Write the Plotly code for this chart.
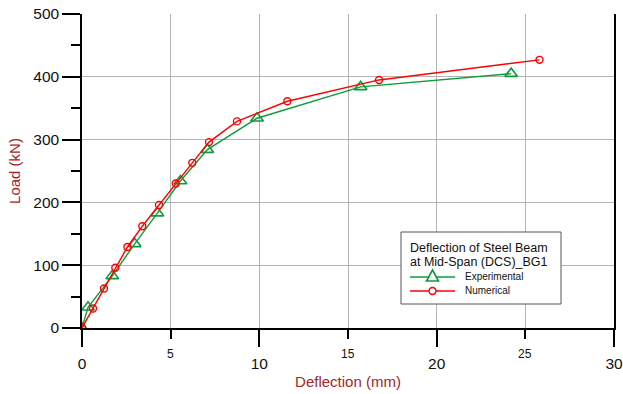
import plotly.graph_objects as go

# Load-deflection data at mid-span, beam BG1
exp_deflection = [0, 0.34, 1.71, 2.97, 4.25, 5.55, 7.07, 9.87, 15.71, 24.2]
exp_load = [0, 33, 83, 134, 183, 234, 284, 334, 384, 405]

num_deflection = [0, 0.62, 1.24, 1.88, 2.56, 3.40, 4.34, 5.29, 6.22, 7.16,
                  8.74, 11.58, 16.75, 25.8]
num_load = [0, 31, 63, 96, 129, 162, 196, 230, 263, 296, 329, 361, 395, 427]

x_major_ticks = [0, 10, 20, 30]
x_minor_labels = [5, 15, 25]

legend_title_lines = ["Deflection of Steel Beam", "at Mid-Span (DCS)_BG1"]
series_names = ["Experimental", "Numerical"]

FONT = "Liberation Sans, Arial, sans-serif"
GREEN = "#0f9b3c"
RED = "#ff0000"
TITLE_RED = "#a3262a"
GRID = "#b4b4b4"

W, H = 623, 394
ML, MR, MT, MB = 82, 9, 14, 66
PW, PH = W - ML - MR, H - MT - MB


def px(x):
    """Figure pixel column -> paper x."""
    return (x - ML) / PW


def py(y):
    """Figure pixel row -> paper y."""
    return (H - MB - y) / PH


fig = go.Figure()
fig.add_trace(go.Scatter(
    x=exp_deflection, y=exp_load, mode="lines+markers", name=series_names[0],
    line=dict(color=GREEN, width=1.4),
    marker=dict(symbol="triangle-up-open", size=11, color=GREEN,
                line=dict(width=1.6, color=GREEN)),
))
fig.add_trace(go.Scatter(
    x=num_deflection, y=num_load, mode="lines+markers", name=series_names[1],
    line=dict(color=RED, width=1.4),
    marker=dict(symbol="circle-open", size=7, color=RED,
                line=dict(width=1.4, color=RED)),
))

# smaller labels for the intermediate x ticks
for v in x_minor_labels:
    fig.add_annotation(x=v, y=py(354), xref="x", yref="paper", text=str(v),
                       showarrow=False, yanchor="middle",
                       font=dict(family=FONT, size=12, color="#111111"))

# ---- legend box drawn in figure pixels ----
shapes = [dict(type="rect", xref="paper", yref="paper",
               x0=px(401), x1=px(561), y0=py(304), y1=py(232),
               fillcolor="white", line=dict(color="#555555", width=1),
               layer="above")]
annotations = []
for line_y, line_text in zip([248, 262], legend_title_lines):
    annotations.append(dict(x=px(479), y=py(line_y), xref="paper",
                            yref="paper", text=line_text, showarrow=False,
                            xanchor="center", yanchor="middle",
                            font=dict(family=FONT, size=12.5, color="#111111")))
rows = [(277.0, GREEN, "triangle"), (291.0, RED, "circle")]
for (row_y, color, kind), name in zip(rows, series_names):
    shapes.append(dict(type="line", xref="paper", yref="paper",
                       x0=px(410), x1=px(455), y0=py(row_y), y1=py(row_y),
                       line=dict(color=color, width=1.4), layer="above"))
    if kind == "triangle":
        shapes.append(dict(type="path", xref="paper", yref="paper",
                           xsizemode="pixel", ysizemode="pixel",
                           xanchor=px(432.5), yanchor=py(row_y),
                           path="M -6 -4 L 6 -4 L 0 7 Z",
                           fillcolor="white", line=dict(color=color, width=1.6),
                           layer="above"))
    else:
        shapes.append(dict(type="circle", xref="paper", yref="paper",
                           xsizemode="pixel", ysizemode="pixel",
                           xanchor=px(432.5), yanchor=py(row_y),
                           x0=-3.5, x1=3.5, y0=-3.5, y1=3.5,
                           fillcolor="white", line=dict(color=color, width=1.4),
                           layer="above"))
    annotations.append(dict(x=px(463), y=py(row_y - 0.5), xref="paper",
                            yref="paper", text=name, showarrow=False,
                            xanchor="left", yanchor="middle",
                            font=dict(family=FONT, size=10, color="#111111")))

for a in annotations:
    fig.add_annotation(**a)

fig.update_layout(
    width=W, height=H,
    margin=dict(l=ML, r=MR, t=MT, b=MB),
    paper_bgcolor="white", plot_bgcolor="white",
    font=dict(family=FONT, color="#111111"),
    showlegend=False,
    shapes=shapes,
    xaxis=dict(
        range=[0, 30], tickmode="array", tickvals=x_major_ticks,
        ticks="outside", ticklen=17, tickwidth=1.5, tickcolor="black",
        showline=True, linecolor="black", linewidth=1.5,
        showgrid=True, gridcolor=GRID, gridwidth=1.3,
        zeroline=False, ticklabelstandoff=4, automargin=False,
        tickfont=dict(family=FONT, size=15.5, color="#111111"),
        minor=dict(dtick=5, tick0=0, ticks="outside", ticklen=9, tickwidth=1.5,
                   tickcolor="black", showgrid=True, gridcolor=GRID,
                   gridwidth=1.3),
        title=dict(text="Deflection (mm)", standoff=5,
                   font=dict(family=FONT, size=15, color=TITLE_RED)),
    ),
    yaxis=dict(
        range=[0, 500], tickmode="linear", tick0=0, dtick=100,
        ticks="outside", ticklen=18, tickwidth=1.5, tickcolor="black",
        showline=True, linecolor="black", linewidth=1.5, mirror=True,
        showgrid=True, gridcolor=GRID, gridwidth=1.3,
        zeroline=False, automargin=False,
        tickfont=dict(family=FONT, size=15.5, color="#111111"),
        minor=dict(dtick=50, tick0=0, ticks="outside", ticklen=9, tickwidth=1.5,
                   tickcolor="black", showgrid=False),
        title=dict(text="Load (kN)", standoff=9,
                   font=dict(family=FONT, size=15, color=TITLE_RED)),
    ),
)

fig.write_html("out.html")
